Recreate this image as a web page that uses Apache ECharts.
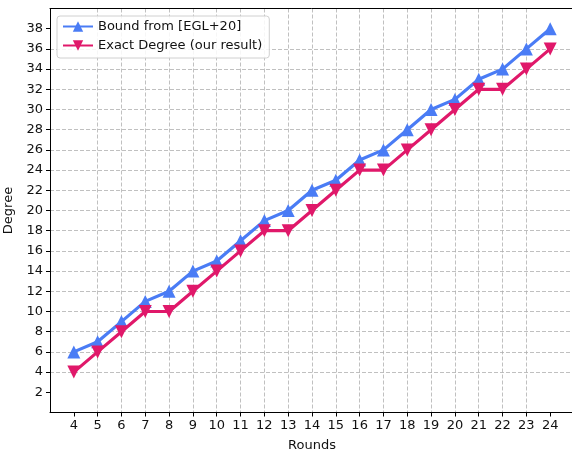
<!DOCTYPE html>
<html><head><meta charset="utf-8">
<script src="https://cdn.jsdelivr.net/npm/echarts@6/dist/echarts.min.js"></script>
<style>html,body{margin:0;padding:0;background:#fff}#c{width:572px;height:451px}</style>
</head><body><div id="c"></div>
<script>
const rounds = [4,5,6,7,8,9,10,11,12,13,14,15,16,17,18,19,20,21,22,23,24];
const boundEGL = [6,7,9,11,12,14,15,17,19,20,22,23,25,26,28,30,31,33,34,36,38];
const exactDegree = [4,6,8,10,10,12,14,16,18,18,20,22,24,24,26,28,30,32,32,34,36];
const xTicks = rounds.slice();
const yTicks = [2,4,6,8,10,12,14,16,18,20,22,24,26,28,30,32,34,36,38];
const seriesNames = ['Bound from [EGL+20]', 'Exact Degree (our result)'];

const font = 'DejaVu Sans';
const chart = echarts.init(document.getElementById('c'), null, {renderer:'canvas'});
chart.setOption({
  animation:false,
  textStyle:{fontFamily:font},
  grid:{left:50, width:524, top:8.5, bottom:38.5, show:false, outerBoundsMode:'none', containLabel:false},
  legend:{
    left:57, top:16, orient:'vertical', itemGap:6, itemWidth:30, itemHeight:13,
    padding:[4,7,6,5], backgroundColor:'rgba(255,255,255,0.85)', borderColor:'#d0d0d0', borderWidth:1, borderRadius:3,
    textStyle:{fontFamily:font, fontSize:13, color:'#111'},
    data:seriesNames
  },
  xAxis:[{
    type:'value', min:3, max:25, interval:1,
    name:'Rounds', nameLocation:'middle', nameGap:27,
    nameTextStyle:{fontFamily:font, fontSize:13, color:'#111'},
    axisLine:{show:true, onZero:false, lineStyle:{color:'#000', width:1}},
    axisTick:{show:true, length:4, lineStyle:{color:'#000'}, customValues:xTicks},
    axisLabel:{fontFamily:font, fontSize:13, color:'#111', margin:7, customValues:xTicks},
    splitLine:{show:true, showMinLine:false, showMaxLine:false, lineStyle:{color:'#b0b0b0', type:[4,2], width:0.8}}
  },{
    type:'value', position:'top', min:3, max:25, interval:1,
    axisLine:{show:true, onZero:false, lineStyle:{color:'#000', width:1}},
    axisTick:{show:false}, axisLabel:{show:false}, splitLine:{show:false}
  }],
  yAxis:{
    type:'value', min:0, max:40, interval:2,
    name:'Degree', nameLocation:'middle', nameGap:26, nameRotate:90,
    nameTextStyle:{fontFamily:font, fontSize:13, color:'#111'},
    axisLine:{show:true, lineStyle:{color:'#000', width:1}},
    axisTick:{show:true, length:4, lineStyle:{color:'#000'}, customValues:yTicks},
    axisLabel:{fontFamily:font, fontSize:13, color:'#111', margin:7, customValues:yTicks},
    splitLine:{show:true, showMinLine:false, showMaxLine:false, lineStyle:{color:'#b0b0b0', type:[4,2], width:0.8}}
  },
  series:[
    {name:seriesNames[0], type:'line', data:rounds.map((r,i)=>[r,boundEGL[i]]),
     symbol:'triangle', symbolSize:13, showAllSymbol:true,
     lineStyle:{color:'#4a7cf5', width:3.2}, itemStyle:{color:'#4a7cf5'}, z:2},
    {name:seriesNames[1], type:'line', data:rounds.map((r,i)=>[r,exactDegree[i]]),
     symbol:'triangle', symbolRotate:180, symbolSize:13, showAllSymbol:true,
     lineStyle:{color:'#e0186a', width:3.2}, itemStyle:{color:'#e0186a'}, z:3}
  ]
});
</script></body></html>
